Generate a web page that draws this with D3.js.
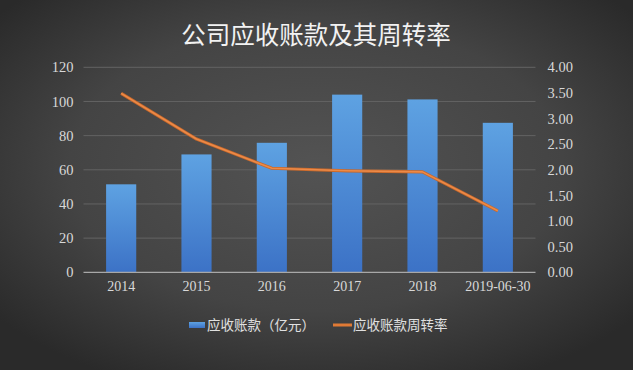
<!DOCTYPE html>
<html><head><meta charset="utf-8">
<script src="https://cdn.jsdelivr.net/npm/d3@7/dist/d3.min.js"></script>
<style>html,body{margin:0;padding:0;background:#333;}svg{display:block;}</style>
</head><body>
<svg id="c" width="633" height="370"></svg>
<script>
const title = "公司应收账款及其周转率";
const categories = ["2014","2015","2016","2017","2018","2019-06-30"];
const receivables = [51.5, 69, 75.8, 104, 101.2, 87.5];
const turnover = [3.49, 2.6, 2.03, 1.98, 1.96, 1.2];
const leftTicks = [0,20,40,60,80,100,120];
const rightTicks = [0,0.5,1,1.5,2,2.5,3,3.5,4];
const seriesNames = ["应收账款（亿元）","应收账款周转率"];

(function(){
const W=633,H=370;
const svg=d3.select("#c");
const defs=svg.append("defs");
const bg=defs.append("radialGradient").attr("id","bg").attr("cx","50%").attr("cy","45%").attr("r","65%");
bg.append("stop").attr("offset","0%").attr("stop-color","#535353");
bg.append("stop").attr("offset","60%").attr("stop-color","#444");
bg.append("stop").attr("offset","100%").attr("stop-color","#2a2a2a");
const bar=defs.append("linearGradient").attr("id","bar").attr("x1",0).attr("y1",0).attr("x2",0).attr("y2",1);
bar.append("stop").attr("offset","0%").attr("stop-color","#5ea2e2");
bar.append("stop").attr("offset","100%").attr("stop-color","#3c72c6");
svg.append("rect").attr("width",W).attr("height",H).attr("fill","url(#bg)");

const mLeft=83.5,mRight=535.5,mTop=67.3,mBottom=272.3;
const x=d3.scaleBand().domain(categories).range([mLeft,mRight]).paddingInner(0.6).paddingOuter(0.3);
const yL=d3.scaleLinear().domain([0,120]).range([mBottom,mTop]);
const yR=d3.scaleLinear().domain([0,4]).range([mBottom,mTop]);

svg.append("g").selectAll("line").data(leftTicks.filter(d=>d>0)).join("line")
  .attr("x1",mLeft).attr("x2",mRight).attr("y1",d=>yL(d)).attr("y2",d=>yL(d))
  .attr("stroke","#636363").attr("stroke-width",1);

svg.append("text").attr("x",316).attr("y",44).attr("text-anchor","middle")
  .attr("font-family","'Noto Sans CJK SC',sans-serif").attr("font-size",24.5)
  .attr("fill","#f2f2f2").text(title);

svg.append("g").selectAll("rect").data(categories).join("rect")
  .attr("x",d=>x(d)).attr("width",x.bandwidth())
  .attr("y",(d,i)=>yL(receivables[i])).attr("height",(d,i)=>mBottom-yL(receivables[i]))
  .attr("fill","url(#bar)");

svg.append("line").attr("x1",mLeft).attr("x2",mRight).attr("y1",mBottom).attr("y2",mBottom)
  .attr("stroke","#a8a8a8").attr("stroke-width",1.2);

const font="'Liberation Serif','DejaVu Serif',serif";
const axL=svg.append("g").attr("transform",`translate(${mLeft},0)`)
  .call(d3.axisLeft(yL).tickValues(leftTicks).tickSize(0).tickPadding(10));
axL.select(".domain").remove();
axL.selectAll("text").attr("font-family",font).attr("font-size",14.5).attr("fill","#d8d8d8");
const axR=svg.append("g").attr("transform",`translate(${mRight},0)`)
  .call(d3.axisRight(yR).tickValues(rightTicks).tickFormat(d3.format(".2f")).tickSize(0).tickPadding(12));
axR.select(".domain").remove();
axR.selectAll("text").attr("font-family",font).attr("font-size",14.5).attr("fill","#d8d8d8");
const axX=svg.append("g").attr("transform",`translate(0,${mBottom})`)
  .call(d3.axisBottom(x).tickSize(0).tickPadding(9));
axX.select(".domain").remove();
axX.selectAll("text").attr("font-family",font).attr("font-size",14).attr("fill","#d8d8d8");

const line=d3.line().x((d,i)=>x(categories[i])+x.bandwidth()/2).y(d=>yR(d));
svg.append("path").datum(turnover).attr("d",line).attr("fill","none")
  .attr("stroke","#c8682a").attr("stroke-width",3.2).attr("stroke-linejoin","round");
svg.append("path").datum(turnover).attr("d",line).attr("fill","none")
  .attr("stroke","#ec8a48").attr("stroke-width",1.6).attr("stroke-linejoin","round");

const lg=svg.append("g").attr("font-family","'Noto Sans CJK SC',sans-serif").attr("font-size",13.5).attr("fill","#e0e0e0");
lg.append("rect").attr("x",189).attr("y",322).attr("width",16).attr("height",6).attr("fill","url(#bar)");
lg.append("text").attr("x",207).attr("y",330).text(seriesNames[0]);
lg.append("line").attr("x1",333).attr("x2",352).attr("y1",325).attr("y2",325).attr("stroke","#e07a35").attr("stroke-width",3);
lg.append("text").attr("x",353).attr("y",330).text(seriesNames[1]);
})();
</script>
</body></html>
